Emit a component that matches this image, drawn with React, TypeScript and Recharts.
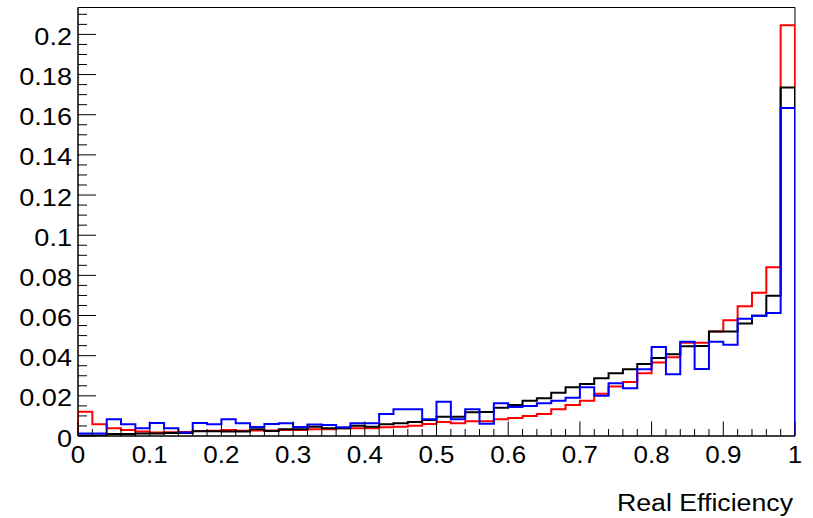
import React from 'react';
import { LineChart, Line, XAxis, YAxis, ReferenceArea, Label } from 'recharts';

// lower edges of the 50 histogram bins
const binLow = [
  0, 0.02, 0.04, 0.06, 0.08, 0.1, 0.12, 0.14, 0.16, 0.18,
  0.2, 0.22, 0.24, 0.26, 0.28, 0.3, 0.32, 0.34, 0.36, 0.38,
  0.4, 0.42, 0.44, 0.46, 0.48, 0.5, 0.52, 0.54, 0.56, 0.58,
  0.6, 0.62, 0.64, 0.66, 0.68, 0.7, 0.72, 0.74, 0.76, 0.78,
  0.8, 0.82, 0.84, 0.86, 0.88, 0.9, 0.92, 0.94, 0.96, 0.98,
];
const xMaxEdge = 1;

const redValues = [
  0.0121, 0.0058, 0.0038, 0.0030, 0.0022, 0.0018, 0.0019, 0.0020, 0.0025, 0.0026,
  0.0030, 0.0026, 0.0028, 0.0027, 0.0030, 0.0030, 0.0033, 0.0033, 0.0038, 0.0038,
  0.0038, 0.0043, 0.0046, 0.0051, 0.0060, 0.0070, 0.0063, 0.0073, 0.0073, 0.0083,
  0.0090, 0.0100, 0.0110, 0.0133, 0.0155, 0.0176, 0.0210, 0.0246, 0.0269, 0.0312,
  0.0366, 0.0392, 0.0464, 0.0464, 0.0521, 0.0576, 0.0646, 0.0713, 0.0840, 0.2045,
];

const blackValues = [
  0.0002, 0.0002, 0.0010, 0.0010, 0.0013, 0.0013, 0.0015, 0.0015, 0.0024, 0.0024,
  0.0022, 0.0022, 0.0033, 0.0025, 0.0033, 0.0033, 0.0046, 0.0038, 0.0038, 0.0051,
  0.0046, 0.0058, 0.0063, 0.0070, 0.0080, 0.0096, 0.0096, 0.0118, 0.0120, 0.0141,
  0.0155, 0.0175, 0.0188, 0.0216, 0.0243, 0.0259, 0.0288, 0.0313, 0.0333, 0.0358,
  0.0389, 0.0407, 0.0447, 0.0448, 0.0520, 0.0520, 0.0560, 0.0599, 0.0698, 0.1735,
];

const blueValues = [
  0.0012, 0.0012, 0.0083, 0.0058, 0.0038, 0.0065, 0.0038, 0.0018, 0.0065, 0.0058,
  0.0083, 0.0064, 0.0045, 0.0060, 0.0064, 0.0045, 0.0057, 0.0055, 0.0043, 0.0063,
  0.0063, 0.0110, 0.0133, 0.0133, 0.0083, 0.0170, 0.0083, 0.0133, 0.0061, 0.0163,
  0.0145, 0.0150, 0.0163, 0.0175, 0.0191, 0.0243, 0.0200, 0.0263, 0.0238, 0.0333,
  0.0443, 0.0307, 0.0469, 0.0334, 0.0469, 0.0454, 0.0584, 0.0599, 0.0613, 0.1634,
];

const xTicks = [
  0, 0.02, 0.04, 0.06, 0.08, 0.1, 0.12, 0.14, 0.16, 0.18,
  0.2, 0.22, 0.24, 0.26, 0.28, 0.3, 0.32, 0.34, 0.36, 0.38,
  0.4, 0.42, 0.44, 0.46, 0.48, 0.5, 0.52, 0.54, 0.56, 0.58,
  0.6, 0.62, 0.64, 0.66, 0.68, 0.7, 0.72, 0.74, 0.76, 0.78,
  0.8, 0.82, 0.84, 0.86, 0.88, 0.9, 0.92, 0.94, 0.96, 0.98, 1,
];
const xMajor = [0, 0.1, 0.2, 0.3, 0.4, 0.5, 0.6, 0.7, 0.8, 0.9, 1];
const xMajorLabels = ['0', '0.1', '0.2', '0.3', '0.4', '0.5', '0.6', '0.7', '0.8', '0.9', '1'];

const yTicks = [
  0, 0.005, 0.01, 0.015, 0.02, 0.025, 0.03, 0.035, 0.04, 0.045,
  0.05, 0.055, 0.06, 0.065, 0.07, 0.075, 0.08, 0.085, 0.09, 0.095,
  0.1, 0.105, 0.11, 0.115, 0.12, 0.125, 0.13, 0.135, 0.14, 0.145,
  0.15, 0.155, 0.16, 0.165, 0.17, 0.175, 0.18, 0.185, 0.19, 0.195,
  0.2, 0.205, 0.21,
];
const yMajor = [0, 0.02, 0.04, 0.06, 0.08, 0.1, 0.12, 0.14, 0.16, 0.18, 0.2];
const yMajorLabels = ['0', '0.02', '0.04', '0.06', '0.08', '0.1', '0.12', '0.14', '0.16', '0.18', '0.2'];
const yMax = 0.2134;

const xTitle = 'Real Efficiency';

// build step-outline table: start at 0, one point per bin, close down to 0 at the end
const rows: any[] = [{ x: binLow[0], r: 0, k: 0, b: 0 }];
binLow.forEach((lo, i) => {
  rows.push({ x: lo, r: redValues[i], k: blackValues[i], b: blueValues[i] });
});
const last = binLow.length - 1;
rows.push({ x: xMaxEdge, r: redValues[last], k: blackValues[last], b: blueValues[last] });
rows.push({ x: xMaxEdge, r: 0, k: 0, b: 0 });

const FONT = '"Liberation Sans", Arial, sans-serif';
const STRETCH = 1.13;

const findMajor = (v: number, arr: number[]) => arr.findIndex((m) => Math.abs(m - v) < 1e-7);

const YTick = (props: any) => {
  const { x, y, payload } = props;
  const idx = findMajor(payload.value, yMajor);
  const len = idx >= 0 ? 18 : 9;
  return (
    <g>
      <line x1={x} y1={y} x2={x + len} y2={y} stroke="#000" strokeWidth={1} />
      {idx >= 0 && (
        <text
          transform={`translate(${x - 6},${y + 10.5}) scale(${STRETCH},1)`}
          x={0}
          y={0}
          textAnchor="end"
          fontFamily={FONT}
          fontSize={24}
          fill="#000"
        >
          {yMajorLabels[idx]}
        </text>
      )}
    </g>
  );
};

const XTick = (props: any) => {
  const { x, y, payload } = props;
  const idx = findMajor(payload.value, xMajor);
  const len = idx >= 0 ? 14.5 : 7;
  return (
    <g>
      <line x1={x} y1={y} x2={x} y2={y - len} stroke="#000" strokeWidth={1} />
      {idx >= 0 && (
        <text
          transform={`translate(${x},${y + 26.5}) scale(${STRETCH},1)`}
          x={0}
          y={0}
          textAnchor="middle"
          fontFamily={FONT}
          fontSize={23}
          fill="#000"
        >
          {xMajorLabels[idx]}
        </text>
      )}
    </g>
  );
};

const TitleLabel = (props: any) => {
  const vb = props.viewBox || {};
  return (
    <text
      transform={`translate(${vb.x + vb.width - 2},511) scale(1.09,1)`}
      x={0}
      y={0}
      textAnchor="end"
      fontFamily={FONT}
      fontSize={24.5}
      fill="#000"
    >
      {xTitle}
    </text>
  );
};

export default function App() {
  return (
    <div style={{ position: 'absolute', left: 0, top: 0, width: 813, height: 518, background: '#fff' }}>
      <LineChart
        width={813}
        height={518}
        data={rows}
        margin={{ top: 7.5, right: 18, bottom: 52, left: 8 }}
      >
        <XAxis
          dataKey="x"
          type="number"
          domain={[0, 1]}
          ticks={xTicks}
          interval={0}
          tickSize={0}
          tickMargin={0}
          tickLine={false}
          tick={<XTick />}
          axisLine={{ stroke: '#000', strokeWidth: 1 }}
          height={30}
          allowDataOverflow
        >
          <Label content={<TitleLabel />} />
        </XAxis>
        <YAxis
          type="number"
          domain={[0, yMax]}
          ticks={yTicks}
          interval={0}
          tickSize={0}
          tickMargin={0}
          tickLine={false}
          tick={<YTick />}
          axisLine={{ stroke: '#000', strokeWidth: 1 }}
          width={70}
          allowDataOverflow
        />
        <ReferenceArea x1={0} x2={1} y1={0} y2={yMax} fill="none" stroke="#000" strokeWidth={1} />
        <Line type="stepAfter" dataKey="r" stroke="#ff0000" strokeWidth={2} dot={false} isAnimationActive={false} />
        <Line type="stepAfter" dataKey="k" stroke="#000000" strokeWidth={2} dot={false} isAnimationActive={false} />
        <Line type="stepAfter" dataKey="b" stroke="#0000ff" strokeWidth={2} dot={false} isAnimationActive={false} />
      </LineChart>
    </div>
  );
}
